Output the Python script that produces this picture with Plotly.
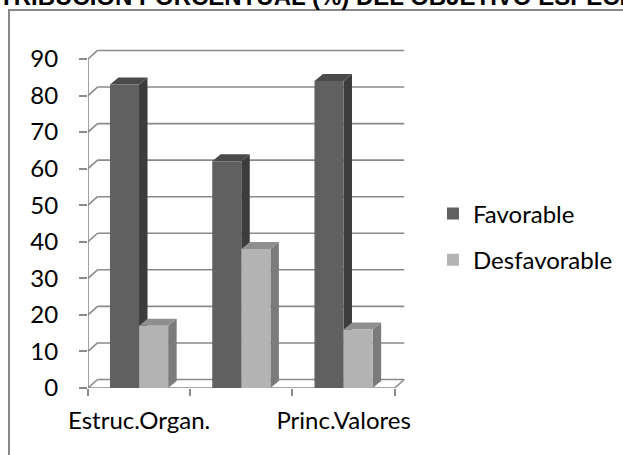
import plotly.graph_objects as go

# ---- data ----
categories = ["Estruc.Organ.", "Categoría 2", "Princ.Valores"]
shown_tick_idx = [0, 2]          # Excel hides the middle label
favorable = [83, 62, 84]
desfavorable = [17, 38, 16]
series_names = ["Favorable", "Desfavorable"]
y_ticks = list(range(0, 100, 10))
title_text = "DISTRIBUCION PORCENTUAL (%) DEL OBJETIVO ESPECÍFICO"

# ---- style / geometry ----
W, H = 623, 455
L, R, T, B = 88, 216, 48, 67
x_rng = [-0.5, 2.62]
y_rng = [0, 93]
pw = W - L - R
ph = H - T - B
px_x = pw / (x_rng[1] - x_rng[0])
px_y = ph / (y_rng[1] - y_rng[0])

FONT = "Lato"
GRID = "#8a8a8a"
front_col = ["#606060", "#b3b3b3"]
top_col = ["#4a4a4a", "#8f8f8f"]
side_col = ["#3c3c3c", "#7b7b7b"]
offsets = [-0.285, 0.0]
bw = 0.284
# wall depth / bar depth in pixels -> data units
dxw, dyw = 9.5 / px_x, 8.5 / px_y
dxb, dyb = 8.5 / px_x, 7.0 / px_y

xs = list(range(len(categories)))
x_left_edge = xs[0] - 0.5
x_right_edge = xs[-1] + 0.5

fig = go.Figure()
shapes = []

def line(x0, y0, x1, y1, color=GRID, width=1.6, xref="x", yref="y", layer="below"):
    shapes.append(dict(type="line", x0=x0, y0=y0, x1=x1, y1=y1, xref=xref, yref=yref,
                       line=dict(color=color, width=width), layer=layer))

# back wall gridlines + left wall diagonals
for v in y_ticks:
    line(x_left_edge + dxw, v + dyw, x_right_edge + dxw, v + dyw)
    line(x_left_edge, v, x_left_edge + dxw, v + dyw)
# floor right diagonal
line(x_right_edge, 0, x_right_edge + dxw, dyw)
# front axis lines
line(x_left_edge, 0, x_left_edge, y_ticks[-1])
line(x_left_edge, 0, x_right_edge, 0)

# 3D faces of the bars (side + top), drawn below the front faces
for i in xs:
    for s, vals in enumerate([favorable, desfavorable]):
        l = i + offsets[s]
        r = l + bw
        h = vals[i]
        side = (f"M{r},0 L{r + dxb},{dyb} L{r + dxb},{h + dyb} L{r},{h} Z")
        top = (f"M{l},{h} L{l + dxb},{h + dyb} L{r + dxb},{h + dyb} L{r},{h} Z")
        shapes.append(dict(type="path", path=side, xref="x", yref="y", layer="below",
                           fillcolor=side_col[s], line=dict(width=0)))
        shapes.append(dict(type="path", path=top, xref="x", yref="y", layer="below",
                           fillcolor=top_col[s], line=dict(width=0)))

for s, vals in enumerate([favorable, desfavorable]):
    fig.add_trace(go.Bar(
        x=xs, y=vals, name=series_names[s], width=bw, offset=offsets[s],
        marker=dict(color=front_col[s], line=dict(width=0)),
        legendgroup=series_names[s], hoverinfo="skip",
    ))

def to_px_paper_x(px):
    return (px - L) / pw

def to_px_paper_y(py):
    return (H - B - py) / ph

# chart border
shapes.append(dict(type="rect", xref="paper", yref="paper",
                   x0=to_px_paper_x(9), x1=to_px_paper_x(645),
                   y0=to_px_paper_y(460), y1=to_px_paper_y(10),
                   line=dict(color="#888888", width=2), fillcolor="rgba(0,0,0,0)", layer="above"))

fig.update_layout(
    width=W, height=H,
    margin=dict(l=L, r=R, t=T, b=B, pad=0, autoexpand=False),
    paper_bgcolor="white", plot_bgcolor="rgba(0,0,0,0)",
    barmode="overlay",
    font=dict(family=FONT, size=24, color="black"),
    shapes=shapes,
    showlegend=True,
    legend=dict(x=to_px_paper_x(433), y=to_px_paper_y(237), xanchor="left", yanchor="middle",
                font=dict(family=FONT, size=24, color="black"), tracegroupgap=12,
                bgcolor="rgba(0,0,0,0)"),
    xaxis=dict(range=x_rng, showgrid=False, zeroline=False, showline=False, automargin=False,
               tickmode="array", tickvals=[xs[k] for k in shown_tick_idx],
               ticktext=[categories[k] for k in shown_tick_idx],
               ticks="outside", ticklen=7, tickcolor="rgba(0,0,0,0)",
               ticklabelstandoff=4,
               tickfont=dict(family=FONT, size=24, color="black"),
               minor=dict(tickmode="array", tickvals=[x - 0.5 for x in xs] + [x_right_edge],
                          ticks="outside", ticklen=7, tickcolor=GRID, tickwidth=1.6)),
    yaxis=dict(range=y_rng, showgrid=False, zeroline=False, showline=False, automargin=False,
               tickmode="array", tickvals=y_ticks, ticktext=[str(v) for v in y_ticks],
               ticks="outside", ticklen=8, tickcolor=GRID, tickwidth=1.6,
               ticklabelstandoff=16,
               tickfont=dict(family=FONT, size=24, color="black")),
    annotations=[dict(text=f"<b>{title_text}</b>", xref="paper", yref="paper",
                      x=to_px_paper_x(-43), y=to_px_paper_y(-3.5), xanchor="left", yanchor="middle",
                      showarrow=False, font=dict(family="Liberation Sans", size=24, color="black"))],
)

fig.write_html("out.html", post_script="document.body.style.margin='0';",
               config={"displayModeBar": False})
